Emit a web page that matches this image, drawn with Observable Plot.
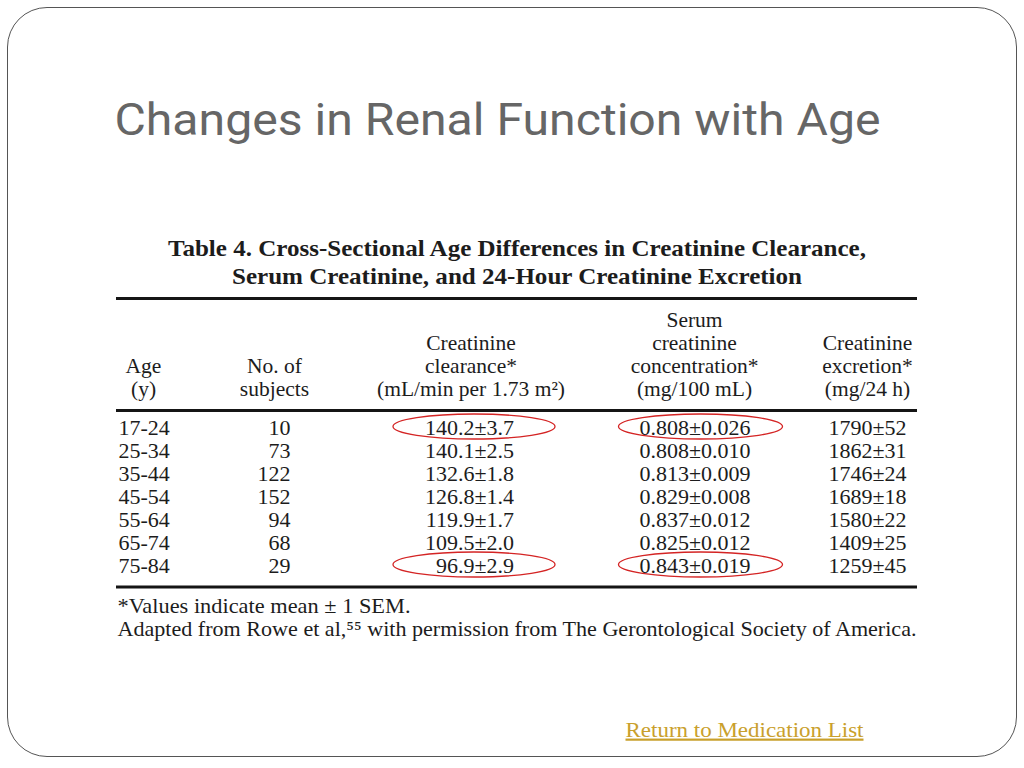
<!DOCTYPE html>
<html>
<head>
<meta charset="utf-8">
<script src="https://cdn.jsdelivr.net/npm/d3@7"></script>
<script src="https://cdn.jsdelivr.net/npm/@observablehq/plot@0.6"></script>
<style>
  html, body { margin: 0; padding: 0; background: #fff; }
  #slide { position: relative; width: 1024px; height: 768px; overflow: hidden; background: #fff; }
  #border { position: absolute; left: 7px; top: 7px; width: 1010px; height: 750px; box-sizing: border-box;
            border: 1.5px solid #555; border-radius: 40px; }
  #chart { position: absolute; left: 0; top: 0; }
</style>
</head>
<body>
<div id="slide"><div id="border"></div><div id="chart"></div></div>
<script>
// ---------- content / data ----------
const slideTitle = "Changes in Renal Function with Age";
const tableCaption = [
  "Table 4. Cross-Sectional Age Differences in Creatinine Clearance,",
  "Serum Creatinine, and 24-Hour Creatinine Excretion"
];
const columns = ["age", "subjects", "clearance", "serum", "excretion"];
const columnHeaders = [
  ["Age", "(y)"],
  ["No. of", "subjects"],
  ["Creatinine", "clearance*", "(mL/min per 1.73 m²)"],
  ["Serum", "creatinine", "concentration*", "(mg/100 mL)"],
  ["Creatinine", "excretion*", "(mg/24 h)"]
];
const ageGroups = ["17-24", "25-34", "35-44", "45-54", "55-64", "65-74", "75-84"];
const subjects = [10, 73, 122, 152, 94, 68, 29];
const clearanceMean = [140.2, 140.1, 132.6, 126.8, 119.9, 109.5, 96.9];
const clearanceSem = [3.7, 2.5, 1.8, 1.4, 1.7, 2.0, 2.9];
const serumMean = [0.808, 0.808, 0.813, 0.829, 0.837, 0.825, 0.843];
const serumSem = [0.026, 0.010, 0.009, 0.008, 0.012, 0.012, 0.019];
const excretionMean = [1790, 1862, 1746, 1689, 1580, 1409, 1259];
const excretionSem = [52, 31, 24, 18, 22, 25, 45];
const highlightAges = ["17-24", "75-84", "17-24", "75-84"];
const highlightColumns = ["clearance", "clearance", "serum", "serum"];
const footnotes = [
  "*Values indicate mean ± 1 SEM.",
  "Adapted from Rowe et al,⁵⁵ with permission from The Gerontological Society of America."
];
const linkText = "Return to Medication List";

// ---------- derived tables ----------
const table = ageGroups.map((age, i) => ({
  age,
  subjects: String(subjects[i]),
  clearance: `${clearanceMean[i].toFixed(1)}±${clearanceSem[i].toFixed(1)}`,
  serum: `${serumMean[i].toFixed(3)}±${serumSem[i].toFixed(3)}`,
  excretion: `${excretionMean[i]}±${excretionSem[i]}`
}));
const headerRows = columns.map((col, j) => ({col, header: columnHeaders[j].join("\n")}));
const highlights = highlightAges.map((age, i) => ({age, col: highlightColumns[i]}));

// ---------- layout (styles & offsets) ----------
const serif = "'Liberation Serif', 'Times New Roman', serif";
const ink = "#1c1c1c";
const colLayout = {
  age:       {hdx: 0,     anchor: "start",  vdx: -25},
  subjects:  {hdx: -50,   anchor: "end",    vdx: -34},
  clearance: {hdx: -34.5, anchor: "end",    vdx: 8.5},
  serum:     {hdx: 8,     anchor: "middle", vdx: 8.5},
  excretion: {hdx: 0,     anchor: "end",    vdx: 39}
};
const ellipseLayout = {clearance: {dx: -31.5, rx: 81}, serum: {dx: 14, rx: 82}};

function ellipseSymbol(rx, ry) {
  const k = 0.5522847;
  return {
    draw(ctx) {
      ctx.moveTo(rx, 0);
      ctx.bezierCurveTo(rx, ry * k, rx * k, ry, 0, ry);
      ctx.bezierCurveTo(-rx * k, ry, -rx, ry * k, -rx, 0);
      ctx.bezierCurveTo(-rx, -ry * k, -rx * k, -ry, 0, -ry);
      ctx.bezierCurveTo(rx * k, -ry, rx, -ry * k, rx, 0);
      ctx.closePath();
    }
  };
}

const first = ageGroups[0], last = ageGroups[ageGroups.length - 1];

const marks = [
  // slide title
  Plot.text([slideTitle], {text: d => d, frameAnchor: "top-left", lineAnchor: "middle", textAnchor: "start",
    dx: -2, dy: 120.5, fontSize: 45, fontFamily: "Roboto, 'Noto Sans', sans-serif", fill: "#666"}),
  // table caption
  ...tableCaption.map((line, i) => Plot.text([line], {text: d => d, frameAnchor: "top", lineAnchor: "middle",
    dy: [248, 276][i], fontSize: 24, fontWeight: "bold", fontFamily: serif, fill: ink})),
  // rules
  Plot.ruleY([first], {dy: -130, strokeWidth: 3, stroke: "#151515"}),
  Plot.ruleY([first], {dy: -18, strokeWidth: 3, stroke: "#151515"}),
  Plot.ruleY([last], {dy: 20.5, strokeWidth: 3, stroke: "#151515"}),
  // column headers
  ...columns.map(c => Plot.text(headerRows, {filter: d => d.col === c, x: "col", y: () => first, text: "header",
    lineAnchor: "bottom", lineHeight: 1.07, dy: -32.5, dx: colLayout[c].hdx,
    fontSize: 21.5, fontFamily: serif, fill: ink})),
  // body cells
  ...columns.map(c => Plot.text(table, {x: () => c, y: "age", text: c,
    textAnchor: colLayout[c].anchor, dx: colLayout[c].vdx, dy: -1,
    fontSize: 22, fontFamily: serif, fill: ink})),
  // red highlight ovals
  ...Object.keys(ellipseLayout).map(c => Plot.dot(highlights, {filter: d => d.col === c, x: "col", y: "age",
    symbol: ellipseSymbol(ellipseLayout[c].rx, 12.5), r: 5, dx: ellipseLayout[c].dx, dy: -2,
    fill: "none", stroke: "#d42424", strokeWidth: 1.3})),
  // footnotes
  ...footnotes.map((line, i) => Plot.text([line], {text: d => d, frameAnchor: "top-left", lineAnchor: "middle",
    textAnchor: "start", dx: 1, dy: [606, 629][i], fontSize: 21, fontFamily: serif, fill: ink})),
  // link
  Plot.text([linkText], {text: d => d, frameAnchor: "top-left", lineAnchor: "middle", textAnchor: "start",
    dx: 509, dy: 729, fontSize: 22, fontFamily: serif, fill: "#c9a02c"})
];

const svg = Plot.plot({
  width: 1024,
  height: 768,
  marginTop: 0, marginBottom: 0, marginLeft: 116, marginRight: 107,
  x: {type: "point", domain: columns, range: [142, 867], padding: 0, axis: null},
  y: {type: "point", domain: ageGroups, range: [426.5, 566.5], padding: 0, axis: null},
  style: {background: "transparent", overflow: "visible"},
  marks
});

// fit a few long texts to their measured widths
const fitWidths = new Map([
  [slideTitle, 766],
  [tableCaption[0], 698],
  [tableCaption[1], 570],
  [footnotes[0], 293],
  [footnotes[1], 799],
  [linkText, 238]
]);
d3.select(svg).selectAll("text").each(function () {
  const t = this.textContent;
  if (fitWidths.has(t)) {
    this.setAttribute("textLength", fitWidths.get(t));
    this.setAttribute("lengthAdjust", "spacingAndGlyphs");
  }
  if (t === linkText) this.style.textDecoration = "underline";
});

document.getElementById("chart").appendChild(svg);
</script>
</body>
</html>
